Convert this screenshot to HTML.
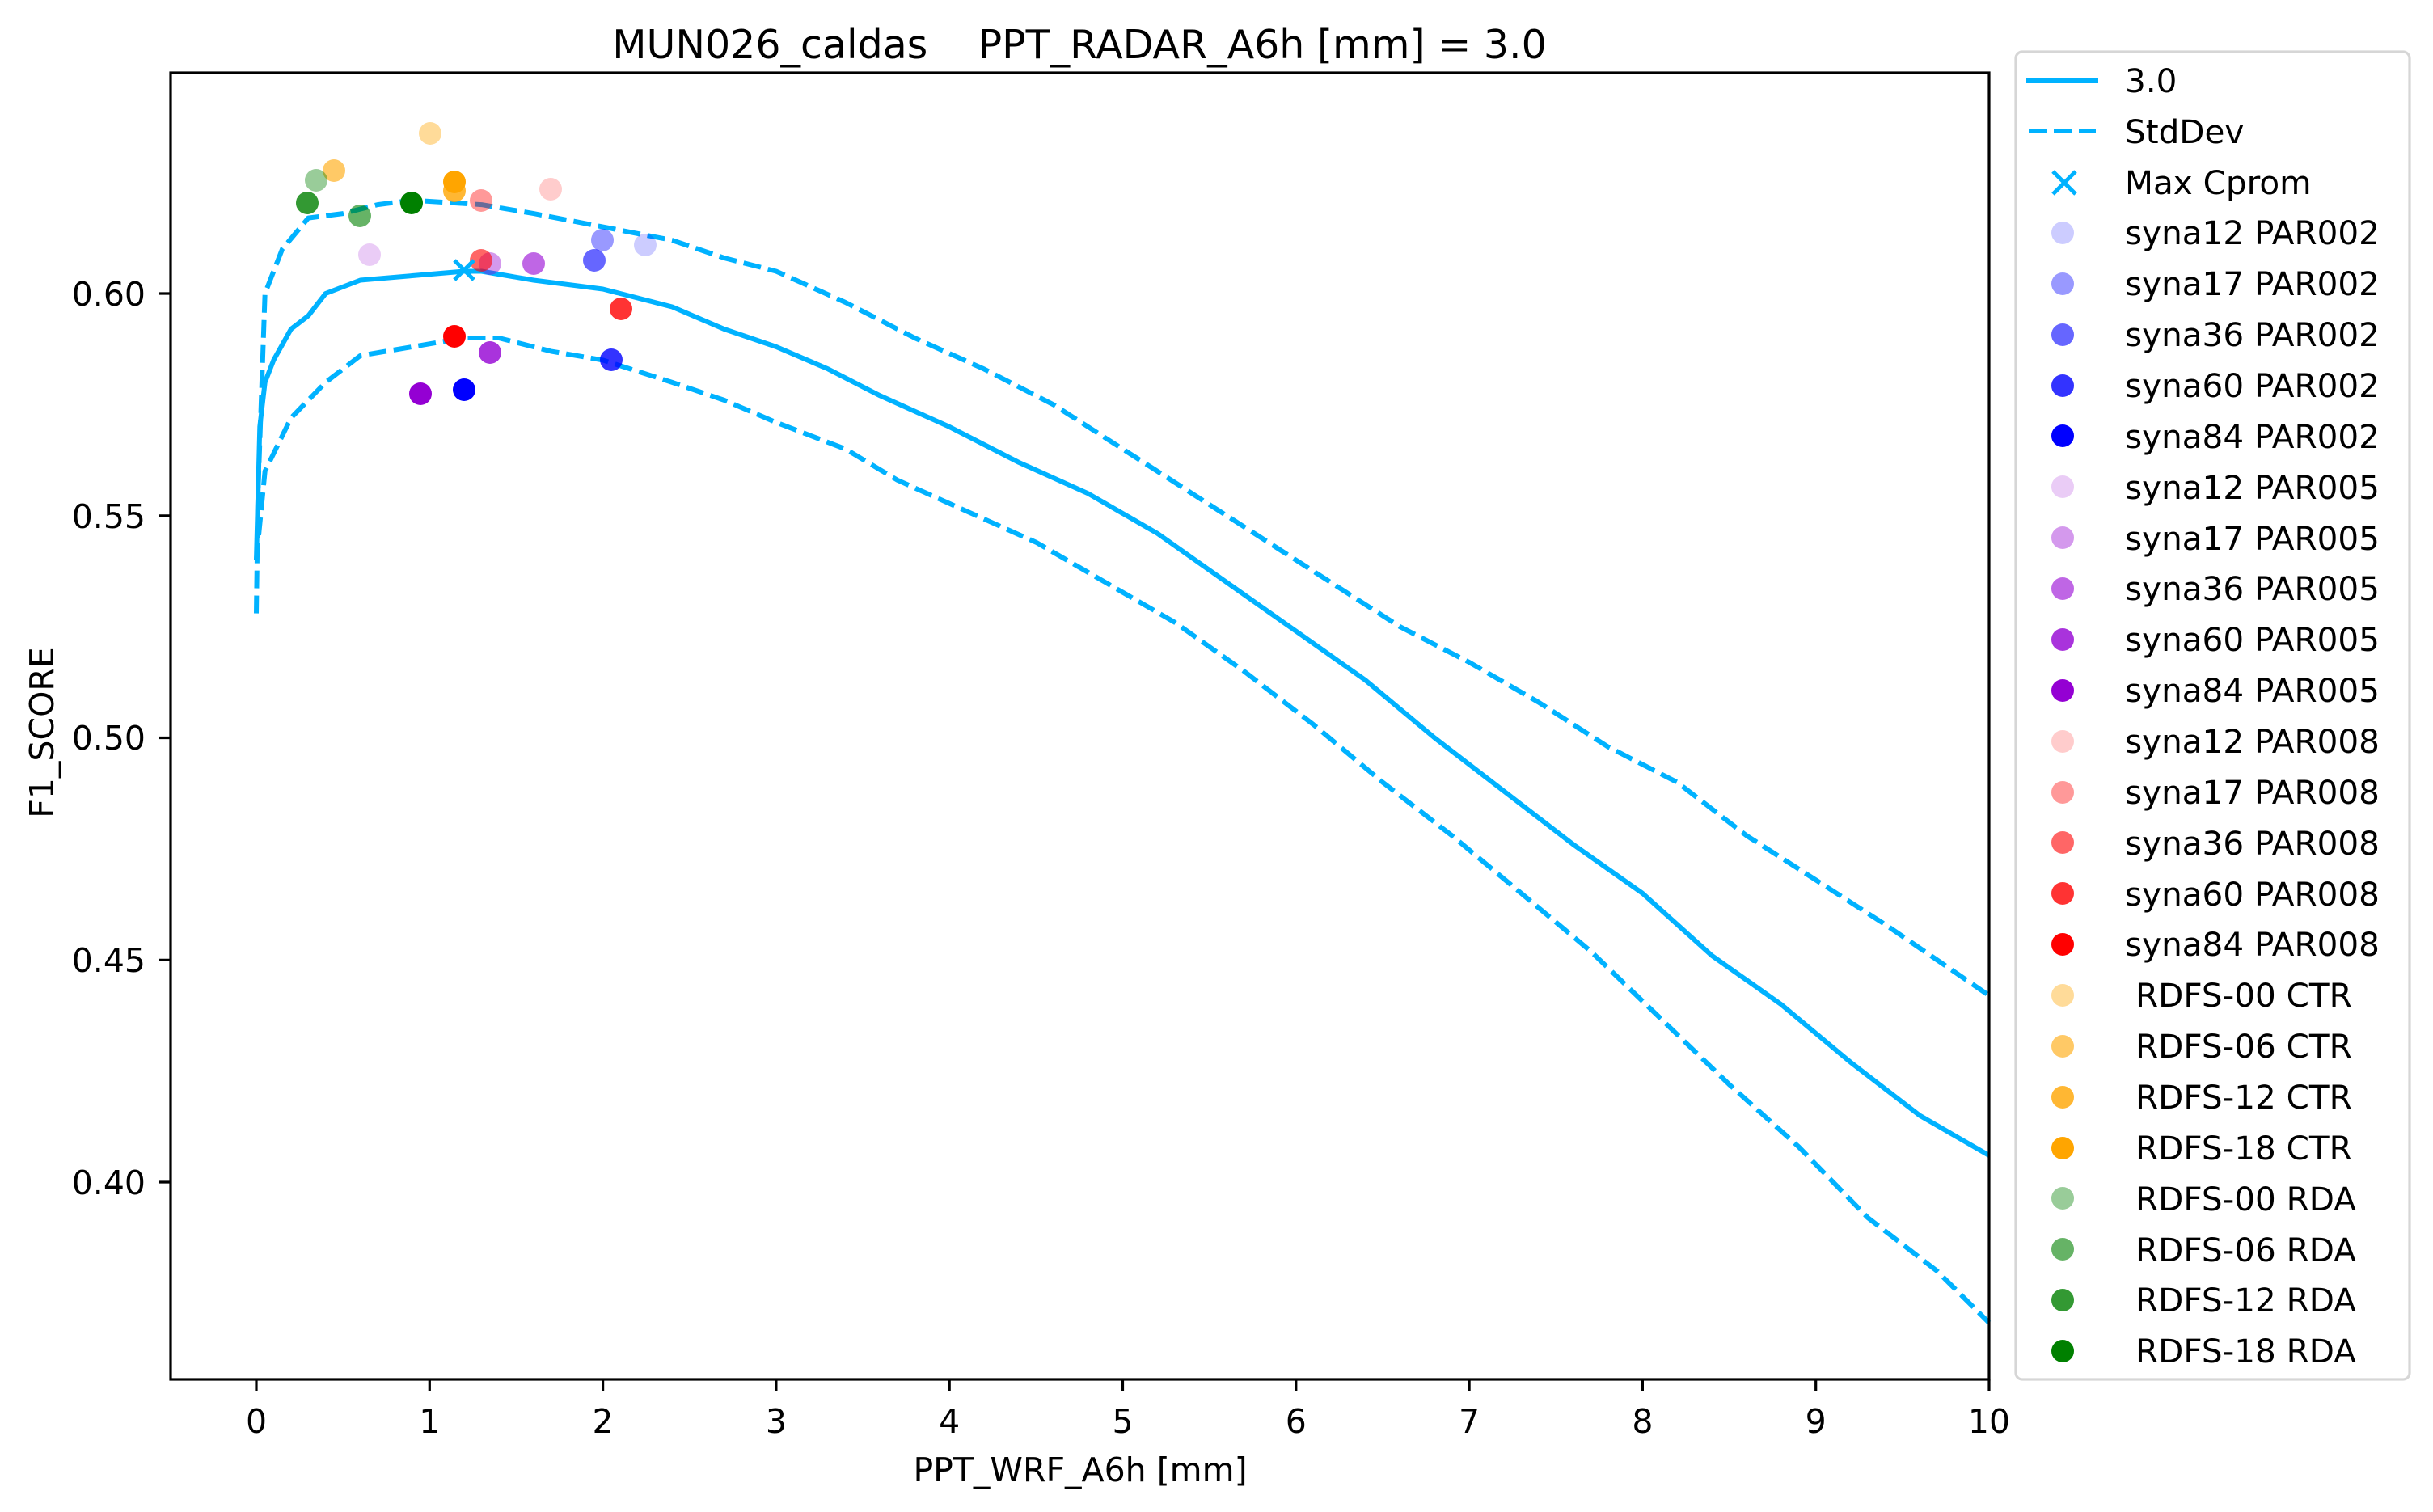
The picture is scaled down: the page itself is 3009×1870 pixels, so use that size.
<!DOCTYPE html>
<html><head><meta charset="utf-8"><style>
html,body{margin:0;padding:0;background:#fff;}
svg{display:block;font-family:"DejaVu Sans","Liberation Sans",sans-serif;}
</style></head><body>
<svg width="3009" height="1870" viewBox="0 0 3009 1870" xmlns="http://www.w3.org/2000/svg">
<rect width="3009" height="1870" fill="#fff"/>
<text x="1335" y="72" font-size="49" text-anchor="middle" xml:space="preserve">MUN026_caldas    PPT_RADAR_A6h [mm] = 3.0</text>

<g fill="none" stroke="#00b2ff" stroke-width="6" stroke-linejoin="round">
<path d="M317,692.7 L321.3,527.9 L327.7,472.9 L338.4,445.4 L359.9,407 L381.3,390.5 L402.7,363 L445.6,346.5 L509.9,341 L574.2,335.5 L595.6,335.5 L659.9,346.5 L745.6,357.5 L831.3,379.5 L895.6,407 L959.9,428.9 L1024.2,456.4 L1088.5,489.4 L1174.2,527.9 L1259.9,571.8 L1345.6,610.3 L1431.4,659.7 L1517.1,720.2 L1602.8,780.6 L1688.5,841.1 L1774.2,912.5 L1859.9,978.4 L1945.7,1044.4 L2031.4,1104.8 L2117.1,1181.8 L2202.8,1242.2 L2288.5,1313.6 L2374.3,1379.6 L2460,1429"/>
<g stroke-dasharray="22,9">
<path d="M317,758.6 L319.1,610.3 L327.7,363 L349.1,308.1 L381.3,269.6 L424.2,264.1 L467,253.1 L509.9,247.6 L595.6,253.1 L659.9,264.1 L745.6,280.6 L831.3,297.1 L895.6,319 L959.9,335.5 L1045.6,374 L1131.3,418 L1217,456.4 L1302.8,500.4 L1388.5,555.3 L1474.2,610.3 L1560,665.2 L1645.7,720.2 L1731.4,775.1 L1817.1,819.1 L1902.8,868.5 L1988.5,923.5 L2074.3,967.5 L2160,1033.4 L2245.7,1088.3 L2331.4,1143.3 L2460,1231.2"/>
<path d="M317,692.7 L327.7,582.8 L359.9,516.9 L402.7,472.9 L445.6,439.9 L509.9,428.9 L574.2,418 L617,418 L681.3,434.4 L745.6,445.4 L831.3,472.9 L895.6,494.9 L959.9,522.4 L1045.6,555.3 L1109.9,593.8 L1195.6,632.3 L1281.4,670.7 L1367.1,720.2 L1452.8,769.6 L1538.5,830.1 L1624.2,896 L1710,967.5 L1795.7,1033.4 L1881.4,1104.8 L1967.1,1176.3 L2052.8,1258.7 L2138.5,1341.1 L2224.3,1418.1 L2310,1506 L2395.7,1572 L2460,1636"/>
</g>
</g>

<g>
<circle cx="798" cy="303" r="14" fill="#0000ff" fill-opacity="0.2"/>
<circle cx="745" cy="297" r="14" fill="#0000ff" fill-opacity="0.4"/>
<circle cx="735" cy="322" r="14" fill="#0000ff" fill-opacity="0.6"/>
<circle cx="756" cy="445" r="14" fill="#0000ff" fill-opacity="0.8"/>
<circle cx="574" cy="482" r="14" fill="#0000ff"/>
<circle cx="457" cy="315" r="14" fill="#9400d3" fill-opacity="0.2"/>
<circle cx="606" cy="326" r="14" fill="#9400d3" fill-opacity="0.4"/>
<circle cx="660" cy="326" r="14" fill="#9400d3" fill-opacity="0.6"/>
<circle cx="606" cy="436" r="14" fill="#9400d3" fill-opacity="0.8"/>
<circle cx="520" cy="487" r="14" fill="#9400d3"/>
<circle cx="681" cy="234" r="14" fill="#ff0000" fill-opacity="0.2"/>
<circle cx="595" cy="248" r="14" fill="#ff0000" fill-opacity="0.4"/>
<circle cx="595" cy="322" r="14" fill="#ff0000" fill-opacity="0.6"/>
<circle cx="768" cy="382" r="14" fill="#ff0000" fill-opacity="0.8"/>
<circle cx="562" cy="416" r="14" fill="#ff0000"/>
<circle cx="532" cy="165" r="14" fill="#ffa500" fill-opacity="0.4"/>
<circle cx="413" cy="211" r="14" fill="#ffa500" fill-opacity="0.6"/>
<circle cx="562" cy="236" r="14" fill="#ffa500" fill-opacity="0.8"/>
<circle cx="562" cy="225" r="14" fill="#ffa500"/>
<circle cx="391" cy="223" r="14" fill="#008000" fill-opacity="0.4"/>
<circle cx="445" cy="267" r="14" fill="#008000" fill-opacity="0.6"/>
<circle cx="380" cy="251" r="14" fill="#008000" fill-opacity="0.8"/>
<circle cx="509" cy="251" r="14" fill="#008000"/>
<path d="M562,322 L586,346 M586,322 L562,346" stroke="#00b2ff" stroke-width="5"/>
</g>

<rect x="211" y="90" width="2249" height="1616" fill="none" stroke="#000" stroke-width="3.2"/>
<g stroke="#000" stroke-width="3.2">
<path d="M317,1706v14M531.3,1706v14M745.6,1706v14M959.9,1706v14M1174.2,1706v14M1388.5,1706v14M1602.8,1706v14M1817.1,1706v14M2031.4,1706v14M2245.7,1706v14M2460,1706v14"/>
<path d="M211,363h-14M211,637.8h-14M211,912.5h-14M211,1187.3h-14M211,1462h-14"/>
</g>
<g font-size="41" text-anchor="middle">
<text x="317" y="1772">0</text><text x="531.3" y="1772">1</text><text x="745.6" y="1772">2</text><text x="959.9" y="1772">3</text><text x="1174.2" y="1772">4</text><text x="1388.5" y="1772">5</text><text x="1602.8" y="1772">6</text><text x="1817.1" y="1772">7</text><text x="2031.4" y="1772">8</text><text x="2245.7" y="1772">9</text><text x="2460" y="1772">10</text>
</g>
<g font-size="41" text-anchor="end">
<text x="180" y="378">0.60</text><text x="180" y="653">0.55</text><text x="180" y="927">0.50</text><text x="180" y="1202">0.45</text><text x="180" y="1477">0.40</text>
</g>
<text x="1336" y="1832" font-size="41" text-anchor="middle">PPT_WRF_A6h [mm]</text>
<text transform="translate(66,906) rotate(-90)" font-size="41" text-anchor="middle">F1_SCORE</text>

<rect x="2493" y="64" width="487" height="1642" rx="8" fill="#fff" fill-opacity="0.8" stroke="#d6d6d6" stroke-width="3.2"/>
<g stroke="#00b2ff" stroke-width="6">
<path d="M2506,100h89"/>
<path d="M2509,162h83" stroke-dasharray="22,9"/>
<path d="M2539,212 L2567,240 M2567,212 L2539,240" stroke-width="5"/>
</g>
<g>
<circle cx="2551" cy="288" r="14" fill="#0000ff" fill-opacity="0.2"/>
<circle cx="2551" cy="351" r="14" fill="#0000ff" fill-opacity="0.4"/>
<circle cx="2551" cy="414" r="14" fill="#0000ff" fill-opacity="0.6"/>
<circle cx="2551" cy="477" r="14" fill="#0000ff" fill-opacity="0.8"/>
<circle cx="2551" cy="539" r="14" fill="#0000ff"/>
<circle cx="2551" cy="602" r="14" fill="#9400d3" fill-opacity="0.2"/>
<circle cx="2551" cy="665" r="14" fill="#9400d3" fill-opacity="0.4"/>
<circle cx="2551" cy="728" r="14" fill="#9400d3" fill-opacity="0.6"/>
<circle cx="2551" cy="791" r="14" fill="#9400d3" fill-opacity="0.8"/>
<circle cx="2551" cy="854" r="14" fill="#9400d3"/>
<circle cx="2551" cy="917" r="14" fill="#ff0000" fill-opacity="0.2"/>
<circle cx="2551" cy="980" r="14" fill="#ff0000" fill-opacity="0.4"/>
<circle cx="2551" cy="1042" r="14" fill="#ff0000" fill-opacity="0.6"/>
<circle cx="2551" cy="1105" r="14" fill="#ff0000" fill-opacity="0.8"/>
<circle cx="2551" cy="1168" r="14" fill="#ff0000"/>
<circle cx="2551" cy="1231" r="14" fill="#ffa500" fill-opacity="0.4"/>
<circle cx="2551" cy="1294" r="14" fill="#ffa500" fill-opacity="0.6"/>
<circle cx="2551" cy="1357" r="14" fill="#ffa500" fill-opacity="0.8"/>
<circle cx="2551" cy="1420" r="14" fill="#ffa500"/>
<circle cx="2551" cy="1482" r="14" fill="#008000" fill-opacity="0.4"/>
<circle cx="2551" cy="1545" r="14" fill="#008000" fill-opacity="0.6"/>
<circle cx="2551" cy="1608" r="14" fill="#008000" fill-opacity="0.8"/>
<circle cx="2551" cy="1671" r="14" fill="#008000"/>
</g>
<g font-size="40.5">
<text x="2628" y="114">3.0</text>
<text x="2628" y="177">StdDev</text>
<text x="2628" y="240">Max Cprom</text>
<text x="2628" y="302">syna12 PAR002</text>
<text x="2628" y="365">syna17 PAR002</text>
<text x="2628" y="428">syna36 PAR002</text>
<text x="2628" y="491">syna60 PAR002</text>
<text x="2628" y="554">syna84 PAR002</text>
<text x="2628" y="617">syna12 PAR005</text>
<text x="2628" y="680">syna17 PAR005</text>
<text x="2628" y="742">syna36 PAR005</text>
<text x="2628" y="805">syna60 PAR005</text>
<text x="2628" y="868">syna84 PAR005</text>
<text x="2628" y="931">syna12 PAR008</text>
<text x="2628" y="994">syna17 PAR008</text>
<text x="2628" y="1057">syna36 PAR008</text>
<text x="2628" y="1120">syna60 PAR008</text>
<text x="2628" y="1182">syna84 PAR008</text>
<text x="2641" y="1245">RDFS-00 CTR</text>
<text x="2641" y="1308">RDFS-06 CTR</text>
<text x="2641" y="1371">RDFS-12 CTR</text>
<text x="2641" y="1434">RDFS-18 CTR</text>
<text x="2641" y="1497">RDFS-00 RDA</text>
<text x="2641" y="1560">RDFS-06 RDA</text>
<text x="2641" y="1622">RDFS-12 RDA</text>
<text x="2641" y="1685">RDFS-18 RDA</text>
</g>
</svg>
</body></html>
